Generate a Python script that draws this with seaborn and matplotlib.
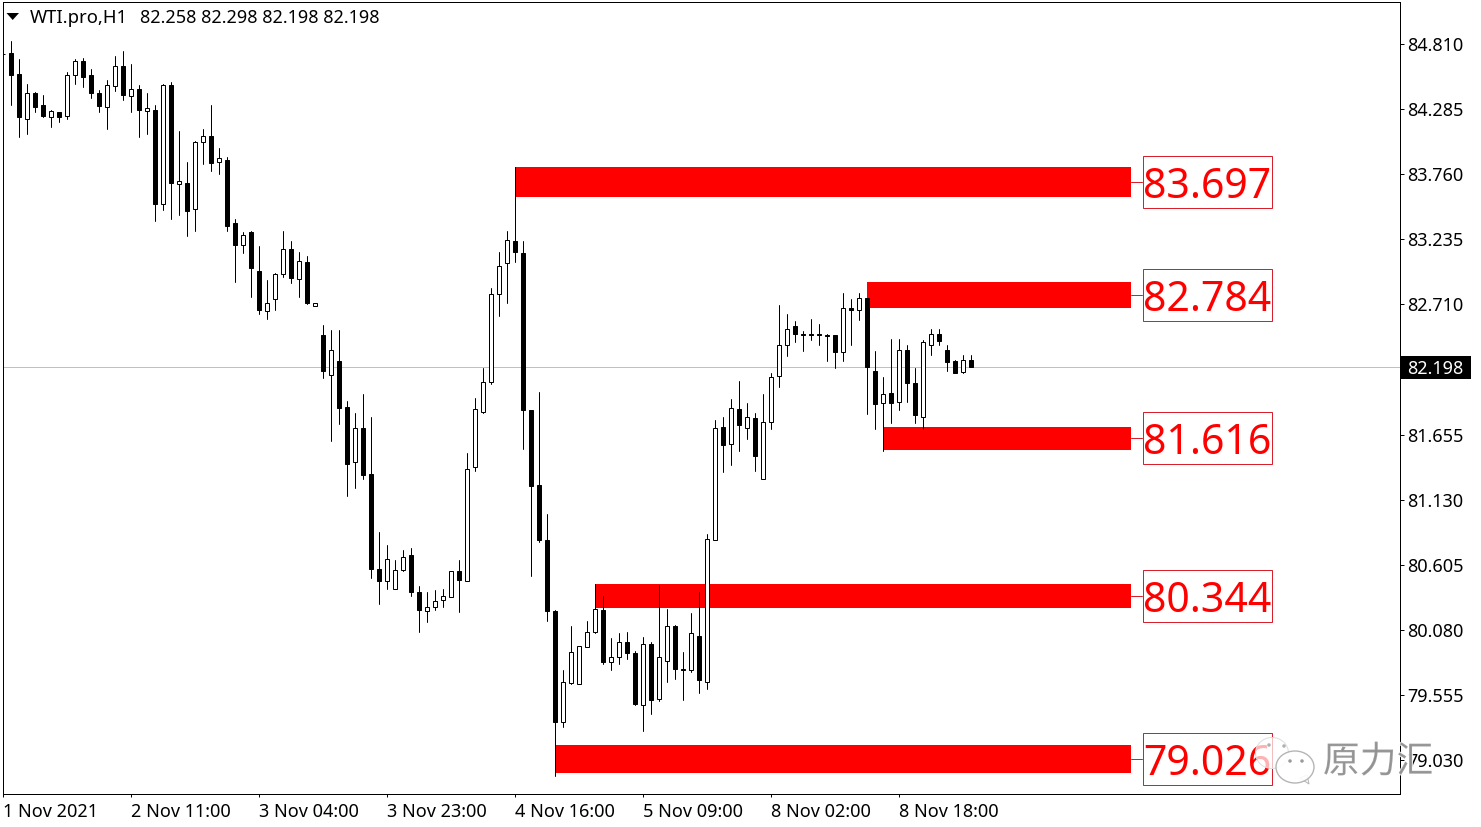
"""
WTI hourly candles with red support/resistance bands.
"""

import pandas as pd
import matplotlib
matplotlib.use("Agg")
import matplotlib.pyplot as plt
import matplotlib.patheffects as pe
from matplotlib.patches import Ellipse, Polygon, Rectangle
from matplotlib.transforms import Affine2D
import seaborn as sns

# candle tops / bottoms, per bar
highs = [84.74, 84.83, 84.69, 84.49, 84.42, 84.40, 84.28, 84.26, 84.58, 84.69,
         84.70, 84.61, 84.44, 84.52, 84.71, 84.75, 84.65, 84.48, 84.41, 84.32,
         84.49, 84.50, 84.11, 83.86, 84.03, 84.12, 84.32, 83.97, 83.90, 83.40,
         83.29, 83.30, 83.18, 82.90, 82.96, 83.30, 83.22, 83.13, 83.10, 82.72,
         82.54, 82.50, 82.50, 81.93, 81.83, 81.98, 81.80, 80.87, 80.76, 80.64,
         80.72, 80.74, 80.43, 80.38, 80.40, 80.41, 80.55, 80.64, 81.51, 81.95,
         82.19, 82.84, 83.13, 83.30, 83.82, 83.22, 81.85, 82.00, 81.01, 80.24,
         79.75, 80.11, 79.95, 80.15, 80.45, 80.35, 80.01, 80.05, 80.06, 79.91,
         80.02, 79.98, 80.44, 80.25, 80.12, 79.90, 80.21, 80.38, 80.85, 81.77,
         81.80, 81.94, 82.09, 81.91, 81.83, 81.98, 82.15, 82.70, 82.63, 82.57,
         82.49, 82.59, 82.55, 82.47, 82.46, 82.80, 82.75, 82.80, 82.76, 82.33,
         82.12, 82.43, 82.43, 82.38, 82.19, 82.42, 82.51, 82.51, 82.38, 82.26,
         82.30, 82.298]
lows = [84.35, 84.32, 84.06, 84.08, 84.26, 84.22, 84.14, 84.18, 84.20, 84.49,
        84.46, 84.37, 84.26, 84.12, 84.43, 84.36, 84.26, 84.06, 84.08, 83.38,
        83.47, 83.40, 83.43, 83.26, 83.30, 83.84, 83.78, 83.76, 83.30, 82.89,
        83.12, 82.77, 82.63, 82.59, 82.66, 82.93, 82.88, 82.77, 82.71, 82.69,
        82.11, 81.60, 81.74, 81.16, 81.22, 81.30, 80.50, 80.29, 80.41, 80.41,
        80.55, 80.35, 80.06, 80.14, 80.24, 80.26, 80.34, 80.22, 80.47, 81.36,
        81.83, 82.06, 82.61, 82.72, 83.05, 81.54, 80.51, 80.79, 80.15, 78.90,
        79.29, 79.64, 79.64, 79.94, 80.05, 79.80, 79.75, 79.80, 79.84, 79.47,
        79.26, 79.40, 79.50, 79.66, 79.68, 79.51, 79.74, 79.57, 79.60, 80.80,
        81.35, 81.41, 81.52, 81.62, 81.36, 81.30, 81.70, 82.04, 82.29, 82.40,
        82.33, 82.42, 82.38, 82.25, 82.19, 82.25, 82.38, 82.58, 81.82, 81.70,
        81.52, 81.75, 81.85, 81.92, 81.75, 81.70, 82.30, 82.38, 82.17, 82.15,
        82.15, 82.198]
opens = [84.73, 84.74, 84.57, 84.20, 84.41, 84.32, 84.22, 84.26, 84.23, 84.56,
         84.67, 84.56, 84.41, 84.30, 84.47, 84.63, 84.39, 84.45, 84.27, 84.28,
         83.52, 84.48, 83.68, 83.69, 83.48, 84.02, 84.07, 83.86, 83.87, 83.36,
         83.19, 83.29, 82.98, 82.65, 82.75, 82.95, 83.15, 82.91, 83.05, 82.69,
         82.46, 82.14, 82.25, 81.88, 81.43, 81.71, 81.34, 80.57, 80.47, 80.41,
         80.56, 80.68, 80.38, 80.23, 80.26, 80.32, 80.34, 80.55, 80.47, 81.39,
         81.84, 82.08, 82.79, 83.04, 83.22, 83.12, 81.85, 81.25, 80.80, 80.23,
         79.33, 79.65, 79.64, 79.94, 80.06, 80.24, 79.82, 79.86, 79.98, 79.89,
         79.47, 79.96, 79.52, 79.83, 80.11, 79.76, 79.75, 80.03, 79.66, 80.80,
         81.72, 81.58, 81.86, 81.71, 81.79, 81.30, 81.76, 82.13, 82.38, 82.53,
         82.47, 82.47, 82.47, 82.46, 82.46, 82.32, 82.68, 82.66, 82.76, 82.17,
         81.91, 81.99, 81.92, 82.34, 82.07, 81.80, 82.38, 82.47, 82.34, 82.25,
         82.16, 82.258]
closes = [84.73, 84.56, 84.22, 84.41, 84.30, 84.23, 84.27, 84.22, 84.56, 84.67,
          84.54, 84.41, 84.31, 84.48, 84.63, 84.40, 84.45, 84.28, 84.29, 83.52,
          84.48, 83.69, 83.70, 83.46, 84.02, 84.07, 83.85, 83.89, 83.34, 83.19,
          83.27, 83.00, 82.66, 82.72, 82.95, 83.15, 82.92, 83.06, 82.72, 82.72,
          82.17, 82.34, 81.87, 81.42, 81.71, 81.33, 80.57, 80.47, 80.65, 80.56,
          80.67, 80.38, 80.24, 80.26, 80.31, 80.35, 80.55, 80.48, 81.38, 81.86,
          82.08, 82.79, 83.02, 83.23, 83.13, 81.85, 81.24, 80.80, 80.23, 79.33,
          79.66, 79.90, 79.95, 80.06, 80.25, 79.82, 79.86, 79.98, 79.89, 79.48,
          79.96, 79.51, 79.86, 80.11, 79.76, 79.75, 80.05, 79.67, 80.81, 81.71,
          81.57, 81.87, 81.73, 81.80, 81.48, 81.76, 82.12, 82.38, 82.51, 82.47,
          82.46, 82.46, 82.46, 82.45, 82.32, 82.68, 82.66, 82.76, 82.20, 81.90,
          81.98, 81.91, 82.34, 82.07, 81.81, 82.40, 82.47, 82.41, 82.24, 82.15,
          82.26, 82.198]

# red bands: first bar, price range, label
band_starts = [64, 108, 110, 74, 69]
band_tops = [83.816, 82.887, 81.719, 80.448, 79.148]
band_bottoms = [83.576, 82.680, 81.530, 80.254, 78.924]
band_labels = ['83.697', '82.784', '81.616', '80.344', '79.026']
band_end = 141

price_ticks = [84.81, 84.285, 83.76, 83.235, 82.71, 81.655, 81.13, 80.605,
               80.08, 79.555, 79.03]
time_ticks = [0, 16, 32, 48, 64, 80, 96, 112]
time_labels = ['1 Nov 2021', '2 Nov 11:00', '3 Nov 04:00', '3 Nov 23:00',
               '4 Nov 16:00', '5 Nov 09:00', '8 Nov 02:00', '8 Nov 18:00']
last_price = 82.198

W, H = 1481, 827
UI_FONT = ['Noto Sans', 'DejaVu Sans']
UI_SIZE = 13
LABEL_RED = '#d8202c'
ONE_PX = 0.72

sns.set_theme(style='white')
plt.rcParams['font.family'] = UI_FONT

df = pd.DataFrame({'bar': range(len(opens)), 'open': opens, 'high': highs,
                   'low': lows, 'close': closes})
df['top'] = df[['open', 'close']].max(axis=1)
df['bottom'] = df[['open', 'close']].min(axis=1)
df['height'] = df['top'] - df['bottom']
df['up'] = df['close'] > df['open']

wicks = df.melt(id_vars='bar', value_vars=['high', 'low'], value_name='price')

fig = plt.figure(figsize=(W / 100, H / 100), dpi=100, facecolor='white')
ax = fig.add_axes([2.5 / W, 1 - 794 / H, 1397 / W, 792 / H])
# pixel coordinates of the whole image, for the furniture around the plot
px = Affine2D().scale(1 / W, -1 / H).translate(0, 1) + fig.transFigure

for start, top, bottom in zip(band_starts, band_tops, band_bottoms):
    ax.fill_between([start, band_end], bottom, top, color='#ff0000', lw=0, zorder=1)

ax.axhline(last_price, color='#c0c0c0', lw=ONE_PX, zorder=1.5)

sns.lineplot(data=wicks, x='bar', y='price', units='bar', estimator=None,
             sort=False, color='black', linewidth=ONE_PX, legend=False, ax=ax, zorder=2)

for is_up, face in [(True, 'white'), (False, 'black')]:
    part = df[df['up'] == is_up].sort_values('bar')
    sns.barplot(data=part, x='bar', y='height', bottom=part['bottom'].values,
                native_scale=True, color=face, saturation=1, width=0.5,
                edgecolor='black', linewidth=ONE_PX, errorbar=None, ax=ax, zorder=3)

ax.set_xlim(-0.1, 174.525)
ax.set_ylim(78.752, 85.149)
ax.set_xlabel('')
ax.set_ylabel('')

ax.yaxis.tick_right()
ax.set_yticks(price_ticks)
ax.set_yticklabels([f'{p:.3f}' for p in price_ticks])
ax.tick_params(axis='y', right=True, length=2.9, width=ONE_PX, pad=2.6, labelsize=UI_SIZE,
               colors='black')
ax.set_xticks(time_ticks)
ax.set_xticklabels(time_labels, ha='left')
ax.tick_params(axis='x', bottom=True, length=2.2, width=ONE_PX, pad=4.2, labelsize=UI_SIZE,
               colors='black')
for spine in ax.spines.values():
    spine.set_visible(True)
    spine.set_color('black')
    spine.set_linewidth(ONE_PX)

# band value labels with connector
for top, bottom, label in zip(band_tops, band_bottoms, band_labels):
    mid = (top + bottom) / 2
    ymid = ax.transData.transform((0, mid))[1]
    ypx = H - ymid
    ax.plot([1131, 1142], [ypx, ypx], transform=px, color=LABEL_RED, lw=ONE_PX,
            clip_on=False, zorder=4)
    ax.add_patch(Rectangle((1142.5, ypx - 26), 129, 52, transform=px, fill=False,
                           edgecolor=LABEL_RED, lw=ONE_PX, clip_on=False, zorder=4))
    ax.text(1207, ypx + 5, label, transform=px, color='#ff0000', fontsize=29.5,
            ha='center', va='center', zorder=5)

# current price tag
ax.add_patch(Rectangle((1401, 356), 70, 23, transform=px, color='black', lw=0,
                       clip_on=False, zorder=4))
ax.text(1407, 369, f'{last_price:.3f}', transform=px, color='white', fontsize=UI_SIZE,
        ha='left', va='center', zorder=5)

# header
ax.add_patch(Polygon([(6.5, 13), (19, 13), (12.7, 20)], transform=px, color='black',
                     lw=0, clip_on=False, zorder=5))
ax.text(30, 18, 'WTI.pro,H1', transform=px, color='black', fontsize=UI_SIZE + 0.3,
        ha='left', va='center', zorder=5)
ax.text(140, 18, f'{opens[-1]:.3f} {highs[-1]:.3f} {lows[-1]:.3f} {closes[-1]:.3f}',
        transform=px, color='black', fontsize=UI_SIZE, ha='left', va='center', zorder=5)

# watermark
ax.add_patch(Ellipse((1272, 753), 33, 31, transform=px, facecolor=(1, 1, 1, 0.7),
                     edgecolor='#dddddd', lw=ONE_PX, clip_on=False, zorder=6))
ax.add_patch(Polygon([(1300, 778), (1309, 784), (1307, 775)], transform=px,
                     facecolor='white', edgecolor='#b5b5b5', lw=ONE_PX, clip_on=False,
                     zorder=6))
ax.add_patch(Ellipse((1295, 767), 38, 32, transform=px, facecolor=(1, 1, 1, 0.9),
                     edgecolor='#b5b5b5', lw=1.0, clip_on=False, zorder=6))
for ex, ey, col in [(1269, 745, '#b0b0b0'), (1284, 746, '#b0b0b0'),
                    (1290, 761, '#9a9a9a'), (1302, 761, '#9a9a9a')]:
    ax.add_patch(Ellipse((ex, ey), 3.5, 3.5, transform=px, color=col, lw=0,
                         clip_on=False, zorder=7))
ax.text(1378, 762, '原力汇', transform=px, color='#8c8c8c', fontsize=26.5,
        family=['Noto Sans CJK SC', 'DejaVu Sans'], ha='center', va='center',
        zorder=7, alpha=0.85,
        path_effects=[pe.withStroke(linewidth=1.5, foreground=(1, 1, 1, 0.5))])

fig.savefig('out.png', dpi=100, facecolor='white')
